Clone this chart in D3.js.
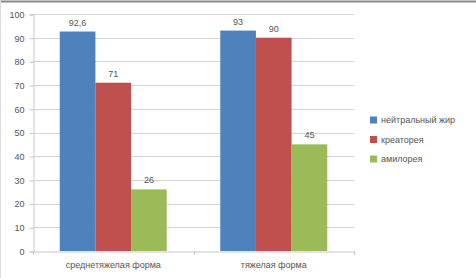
<!DOCTYPE html>
<html>
<head>
<meta charset="utf-8">
<script src="https://cdn.jsdelivr.net/npm/d3@7"></script>
<style>
  body { margin: 0; background: #fff; }
  text { font-family: "Liberation Sans", Arial, sans-serif; }
</style>
</head>
<body>
<svg id="chart" width="476" height="278"></svg>
<script>
// data
const categories = ["среднетяжелая форма", "тяжелая форма"];
const seriesNames = ["нейтральный жир", "креаторея", "амилорея"];
const seriesColors = ["#4F81BD", "#C0504D", "#9BBB59"];
const neutralFat = [92.6, 93];
const creatorrhea = [71, 90];
const amylorrhea = [26, 45];
const valueLabels = [["92,6", "93"], ["71", "90"], ["26", "45"]];
const yTicks = [0, 10, 20, 30, 40, 50, 60, 70, 80, 90, 100];

const seriesValues = [neutralFat, creatorrhea, amylorrhea];

const svg = d3.select("#chart");

// outer frame (screenshot edge)
svg.append("line").attr("x1", 0).attr("x2", 476).attr("y1", 1.5).attr("y2", 1.5)
    .attr("stroke", "#8a8a8a").attr("stroke-width", 2);
svg.append("line").attr("x1", 0.5).attr("x2", 0.5).attr("y1", 0).attr("y2", 278)
    .attr("stroke", "#dcdcdc");

const plot = { left: 33, right: 354, top: 14, bottom: 251 };

const x0 = d3.scaleBand().domain(categories).range([plot.left, plot.right]).paddingInner(1/3).paddingOuter(1/6);
const x1 = d3.scaleBand().domain(d3.range(seriesNames.length)).range([0, x0.bandwidth()]);
const y = d3.scaleLinear().domain([0, 100]).range([plot.bottom, plot.top]);

// gridlines
svg.append("g").selectAll("line").data(yTicks.slice(1)).join("line")
    .attr("x1", plot.left).attr("x2", plot.right)
    .attr("y1", d => Math.round(y(d)) + 0.5).attr("y2", d => Math.round(y(d)) + 0.5)
    .attr("stroke", "#d4d4d4");

// y axis
const yAxis = svg.append("g").attr("transform", `translate(${plot.left + 0.5},0.5)`)
    .call(d3.axisLeft(y).tickValues(yTicks).tickSize(4).tickPadding(5));
yAxis.select(".domain").attr("stroke", "#c8c8c8");
yAxis.selectAll(".tick line").attr("stroke", "#c8c8c8");
yAxis.selectAll(".tick text").attr("fill", "#555").style("font-size", "9px")
    .style("font-family", "Liberation Sans, Arial, sans-serif");

// x axis
const xAxis = svg.append("g").attr("transform", `translate(0,${plot.bottom + 0.5})`)
    .call(d3.axisBottom(x0).tickSize(0).tickPadding(10));
xAxis.select(".domain").attr("stroke", "#c8c8c8");
xAxis.selectAll(".tick text").attr("fill", "#555").style("font-size", "9px")
    .style("font-family", "Liberation Sans, Arial, sans-serif");
// category separator ticks
svg.append("g").selectAll("line").data([plot.left, (plot.left + plot.right) / 2, plot.right]).join("line")
    .attr("x1", d => Math.round(d) + 0.5).attr("x2", d => Math.round(d) + 0.5)
    .attr("y1", plot.bottom).attr("y2", plot.bottom + 4)
    .attr("stroke", "#c8c8c8");

// bars
const groups = svg.append("g").selectAll("g").data(categories).join("g")
    .attr("transform", d => `translate(${x0(d)},0)`);

groups.selectAll("rect")
    .data((c, ci) => seriesValues.map((vals, si) => ({ si, v: vals[ci], label: valueLabels[si][ci] })))
    .join("rect")
    .attr("x", d => x1(d.si))
    .attr("y", d => y(d.v))
    .attr("width", x1.bandwidth())
    .attr("height", d => y(0) - y(d.v))
    .attr("fill", d => seriesColors[d.si]);

groups.selectAll("text.val")
    .data((c, ci) => seriesValues.map((vals, si) => ({ si, v: vals[ci], label: valueLabels[si][ci] })))
    .join("text")
    .attr("class", "val")
    .attr("x", d => x1(d.si) + x1.bandwidth() / 2)
    .attr("y", d => y(d.v) - 6)
    .attr("text-anchor", "middle")
    .attr("fill", "#555")
    .style("font-size", "9px")
    .text(d => d.label);

// legend
const legend = svg.append("g").attr("transform", "translate(370,120)");
const items = legend.selectAll("g").data(seriesNames).join("g")
    .attr("transform", (d, i) => `translate(0,${i * 19.5})`);
items.append("rect").attr("x", 0).attr("y", -3.5).attr("width", 7).attr("height", 7)
    .attr("fill", (d, i) => seriesColors[i]);
items.append("text").attr("x", 11).attr("y", 3).attr("fill", "#555")
    .style("font-size", "9px").text(d => d);
</script>
</body>
</html>
